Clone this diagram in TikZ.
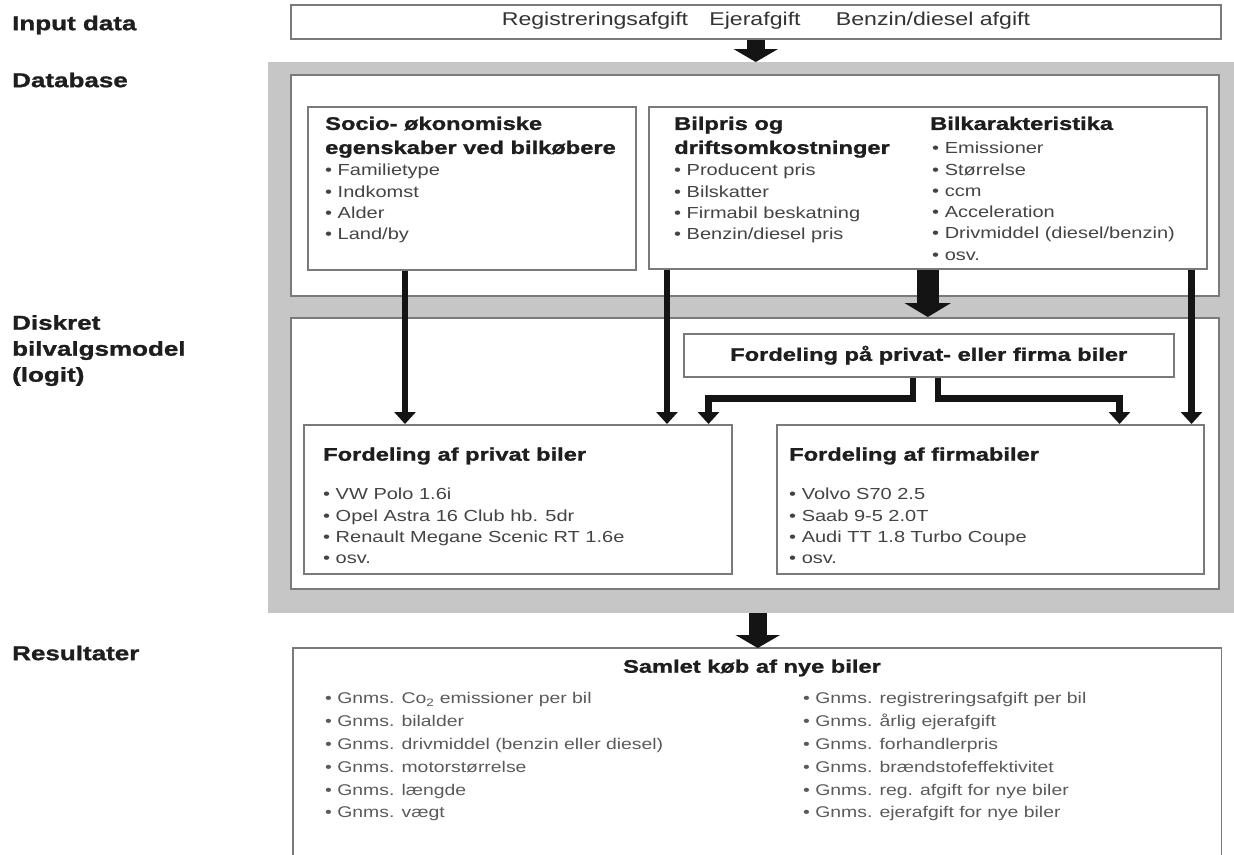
\documentclass[tikz,border=0pt]{standalone}
\usepackage{fontspec}
\setmainfont{Liberation Sans}[FakeStretch=1.25]
\newfontfamily\hvy{Liberation Sans}[FakeStretch=1.3, BoldFeatures={FakeBold=1.3}]
\usetikzlibrary{arrows.meta}
\definecolor{bggray}{HTML}{C6C6C6}
\definecolor{bord}{HTML}{7A7A7A}
\definecolor{txt}{HTML}{444444}
\definecolor{rtxt}{HTML}{5A5A5A}
\definecolor{ttl}{HTML}{1E1E1E}
\definecolor{arr}{HTML}{141414}
\tikzset{
  box/.style={draw=bord, line width=1.5pt, fill=white, inner sep=0pt, anchor=north west},
  lab/.style={font=\hvy\bfseries\fontsize{20}{26}\selectfont, text=ttl, align=left, inner sep=0pt, anchor=north west},
  ttlf/.style={font=\hvy\bfseries\fontsize{18.2}{24}\selectfont, text=ttl, align=left, inner sep=0pt, anchor=north west},
  item/.style={font=\fontsize{16}{21.3}\selectfont, text=txt, align=left, inner sep=0pt, anchor=north west},
  ritem/.style={font=\fontsize{15.5}{22.8}\selectfont, text=rtxt, align=left, inner sep=0pt, anchor=north west},
  intext/.style={font=\fontsize{18.5}{22}\selectfont, text=black!80, inner sep=0pt},
  fat/.style={draw=arr, line width=18pt, -{Triangle[width=44pt,length=13pt]}},
  fatter/.style={draw=arr, line width=22pt, -{Triangle[width=46pt,length=14pt]}},
  thinarr/.style={draw=arr, line width=6.5pt, line join=miter, -{Triangle[width=21pt,length=12pt]}},
}
\begin{document}
\begin{tikzpicture}[x=1pt,y=-1pt]
\useasboundingbox (0,0) rectangle (1234,854);

% row labels
\node[lab, anchor=west] (lin) at (12,25) {Input data};
\node[lab, anchor=west] (ldb) at (12,80) {Database};
\node[lab] (ldisk) at (12,315) {Diskret\\bilvalgsmodel\\(logit)};
\node[lab, anchor=west] (lres) at (12,653) {Resultater};

% input box
\node[box, minimum width=930pt, minimum height=34pt] (input) at (290,4) {};
\node[intext] (t1) at (595,21) {Registreringsafgift};
\node[intext] (t2) at (755,21) {Ejerafgift};
\node[intext] (t3) at (933,21) {Benzin/diesel afgift};

% gray background and inner white panels
\node[fill=bggray, inner sep=0pt, anchor=north west, minimum width=966pt, minimum height=551pt] (bg) at (268,62) {};
\node[box, minimum width=928pt, minimum height=221pt] (db) at (290,74) {};
\node[box, minimum width=928pt, minimum height=271pt] (lower) at (290,317) {};

% database boxes
\node[box, minimum width=328pt, minimum height=163pt] (socio) at (307,106) {};
\node[box, minimum width=558pt, minimum height=162pt] (bilpris) at (648,106) {};

\node[ttlf] (sociot) at (325,116.5) {Socio- økonomiske\\egenskaber ved bilkøbere};
\node[item] (socioi) at (325,164) {• Familietype\\• Indkomst\\• Alder\\• Land/by};

\node[ttlf] (bilprist) at (674,116.5) {Bilpris og\\driftsomkostninger};
\node[item] (bilprisi) at (674,164) {• Producent pris\\• Bilskatter\\• Firmabil beskatning\\• Benzin/diesel pris};

\node[ttlf] (bilkart) at (930,116.5) {Bilkarakteristika};
\node[item] (bilkari) at (932,142) {• Emissioner\\• Størrelse\\• ccm\\• Acceleration\\• Drivmiddel (diesel/benzin)\\• osv.};

% model boxes
\node[box, minimum width=490pt, minimum height=43pt] (fpaa) at (683,333) {};
\node[ttlf, anchor=center] (fpaat) at (fpaa.center) {Fordeling på privat- eller firma biler};

\node[box, minimum width=428pt, minimum height=149pt] (privat) at (303,424) {};
\node[ttlf, anchor=west] (privatt) at (323,456) {Fordeling af privat biler};
\node[item] (privati) at (323,488) {• VW Polo 1.6i\\• Opel Astra 16 Club hb. 5dr\\• Renault Megane Scenic RT 1.6e\\• osv.};

\node[box, minimum width=427pt, minimum height=149pt] (firma) at (776,424) {};
\node[ttlf, anchor=west] (firmat) at (789,456) {Fordeling af firmabiler};
\node[item] (firmai) at (789,488) {• Volvo S70 2.5\\• Saab 9-5 2.0T\\• Audi TT 1.8 Turbo Coupe\\• osv.};

% results box (open at the bottom edge)
\node[inner sep=0pt, anchor=north west, minimum width=928pt, minimum height=212pt] (res) at (293,648) {};
\draw[draw=bord, line width=1.5pt] (res.south west) -- (res.north west) -- (res.north east) -- (res.south east);
\node[ttlf, anchor=center] (rest) at (752,668) {Samlet køb af nye biler};
\node[ritem] (resl) at (325,692.5) {• Gnms. Co\textsubscript{2} emissioner per bil\\• Gnms. bilalder\\• Gnms. drivmiddel (benzin eller diesel)\\• Gnms. motorstørrelse\\• Gnms. længde\\• Gnms. vægt};
\node[ritem] (resr) at (803,692.5) {• Gnms. registreringsafgift per bil\\• Gnms. årlig ejerafgift\\• Gnms. forhandlerpris\\• Gnms. brændstofeffektivitet\\• Gnms. reg. afgift for nye biler\\• Gnms. ejerafgift for nye biler};

% arrows
\draw[fat] (input.south) -- (input.south |- bg.north);
\draw[fatter] (bilpris.south) -- (bilpris.south |- lower.north);
\draw[fat] ([xshift=2pt]input.south |- bg.south) -- ([xshift=2pt]input.south |- res.north);

\draw[thinarr] ([xshift=98pt]socio.south west) -- ([xshift=98pt]socio.south west |- privat.north);
\draw[thinarr] ([xshift=19pt]bilpris.south west) -- ([xshift=19pt]bilpris.south west |- privat.north);
\draw[thinarr] ([xshift=-16pt]bilpris.south east) -- ([xshift=-16pt]bilpris.south east |- firma.north);

\draw[thinarr] ([xshift=-16pt]fpaa.south) -- ++(0,21) -| ([xshift=-24pt]privat.north east);
\draw[thinarr] ([xshift=9pt]fpaa.south) -- ++(0,21) -| ([xshift=-85pt]firma.north east);
\end{tikzpicture}
\end{document}
